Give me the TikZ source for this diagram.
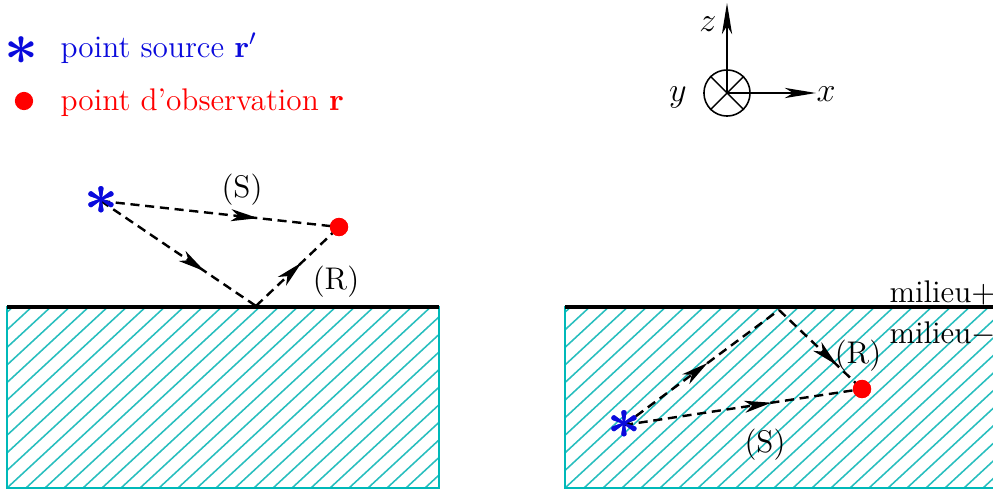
\documentclass[tikz,border=0pt]{standalone}
\usetikzlibrary{arrows.meta,decorations.markings}
\definecolor{hatchc}{RGB}{40,190,190}
\definecolor{borderc}{RGB}{0,185,185}
\definecolor{srcblue}{RGB}{10,10,220}
\begin{document}
\begin{tikzpicture}[x=0.3514pt,y=-0.3514pt,
  every node/.style={font=\fontsize{11}{13}\selectfont},
  srcstar/.style={inner sep=0pt,text=srcblue,font=\fontsize{20}{21}\selectfont\boldmath},
  obsdot/.style={circle,fill=red,inner sep=0pt,minimum size=6.4pt},
  ray/.style={line width=0.85pt,dash pattern=on 3.2pt off 2pt,
    postaction={decorate},
    decoration={markings,mark=at position #1 with {\arrow{Stealth[length=9.5pt,width=4.2pt,inset=2.6pt]}}}},
  hatchline/.style={hatchc,line width=0.55pt},
  hatchborder/.style={borderc,line width=0.55pt},
  interface/.style={line width=1.7pt},
  axisarrow/.style={line width=0.5pt,-{Stealth[length=11pt,width=3.6pt,inset=3pt]}},
  lbl/.style={inner sep=0pt}
]
\useasboundingbox (0,0) rectangle (993,491);

% ---------- legend ----------
\node[srcstar] (legs) at (21,51) {$\ast$};
\node[anchor=base west,text=srcblue,lbl] (legst) at (60,57) {point source $\mathbf{r}'$};
\node[obsdot] (lego) at (24,101) {};
\node[anchor=base west,text=red,lbl] (legot) at (60,110) {point d'observation $\mathbf{r}$};

% ---------- axes ----------
\node[circle,draw,line width=0.55pt,minimum size=16.2pt,inner sep=0pt] (yax) at (727,93) {};
\draw[line width=0.5pt] (yax.north east) -- (yax.south west);
\draw[line width=0.5pt] (yax.north west) -- (yax.south east);
\coordinate (ztip) at (727,3);
\coordinate (xtip) at (816,93);
\draw[axisarrow] (yax.center) -- (ztip);
\draw[axisarrow] (yax.center) -- (xtip);
\node[anchor=base,lbl,font=\fontsize{12}{14}\selectfont] (zl) at (708,31) {$z$};
\node[anchor=base,lbl,font=\fontsize{12}{14}\selectfont] (xl) at (826,101) {$x$};
\node[anchor=base,lbl,font=\fontsize{12}{14}\selectfont] (yl) at (678,101) {$y$};

% ---------- left panel ----------
\begin{scope}
  \clip (7,307) rectangle (439,488);
  \foreach \i in {-12,...,24} \draw[hatchline] (7+\i*19,488) -- ++(200,-185);
\end{scope}
\draw[hatchborder] (7,307) rectangle (439,488);
\draw[interface] (7,307) -- (439,307);

\coordinate (refl) at (256,306);
\node[srcstar] (s1) at (101,201) {$\ast$};
\node[obsdot] (o1) at (339,227) {};
\draw[ray=0.66] (s1.center) -- (o1.center);
\draw[ray=0.67] (s1.center) -- (refl);
\draw[ray=0.55] (refl) -- (o1.center);
\node[obsdot] at (o1) {};
\node[srcstar] at (s1) {$\ast$};
\node[lbl] (lS1) at (242,190) {(S)};
\node[lbl] (lR1) at (336,282) {(R)};

% ---------- right panel ----------
\begin{scope}
  \clip (565,307) rectangle (1000,488);
  \foreach \i in {-12,...,24} \draw[hatchline] (565+\i*19,488) -- ++(200,-185);
\end{scope}
\draw[hatchborder] (1000,307) -- (565,307) -- (565,488) -- (1000,488);
\draw[interface] (565,307) -- (1000,307);

\coordinate (refr) at (779,310);
\node[srcstar] (s2) at (624,425) {$\ast$};
\node[obsdot] (o2) at (862,389) {};
\draw[ray=0.62] (s2.center) -- (o2.center);
\draw[ray=0.54] (s2.center) -- (refr);
\draw[ray=0.70] (refr) -- (o2.center);
\node[obsdot] at (o2) {};
\node[srcstar] at (s2) {$\ast$};
\node[lbl] (lR2) at (858,356) {(R)};
\node[lbl] (lS2) at (765,445) {(S)};
\node[anchor=base west,lbl] (mp) at (889,302) {milieu$+$};
\node[anchor=base west,lbl] (mm) at (889,343) {milieu$-$};
\end{tikzpicture}
\end{document}
